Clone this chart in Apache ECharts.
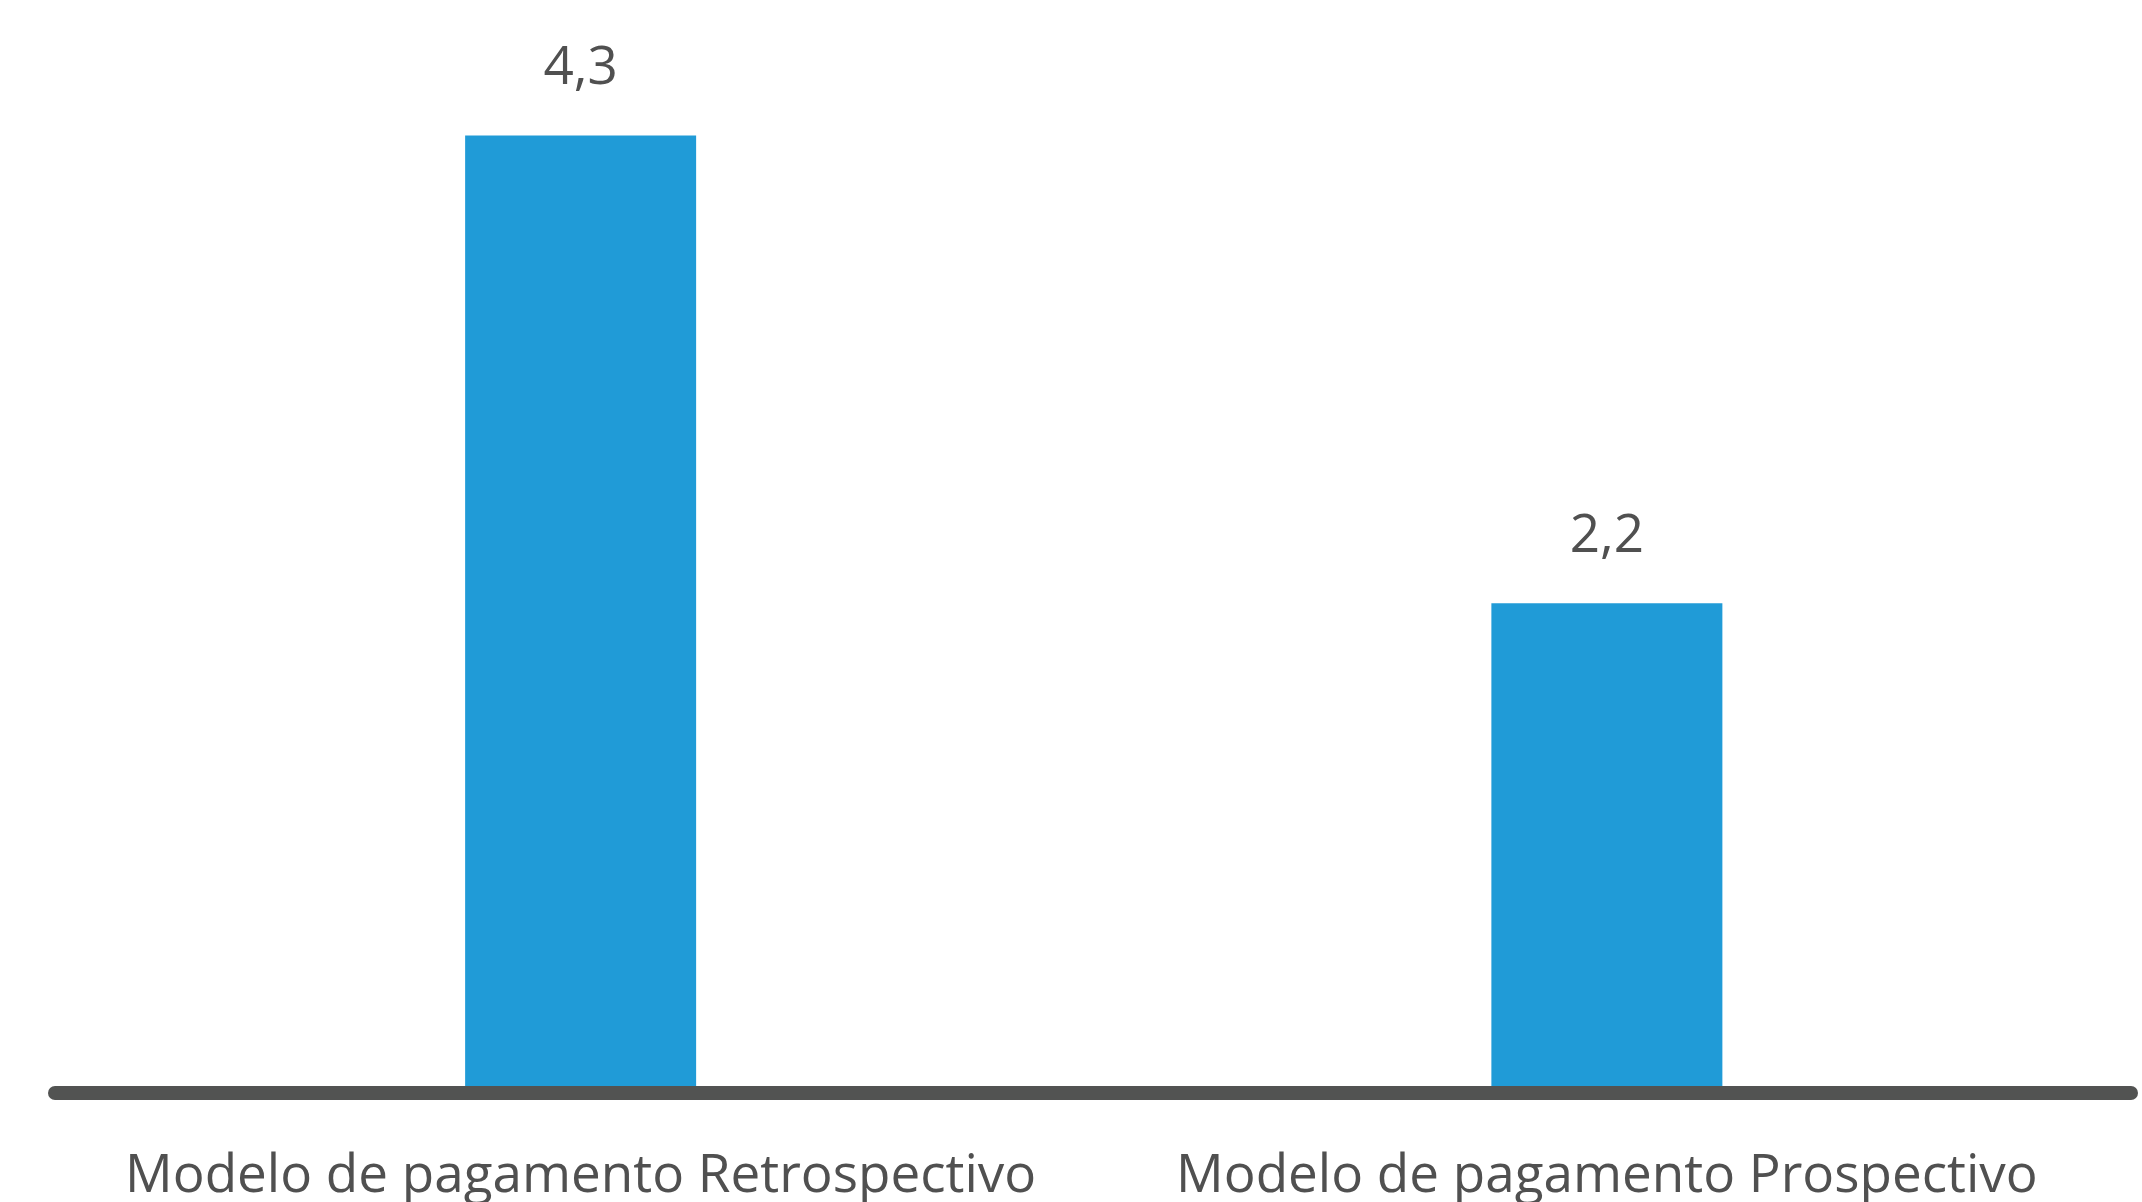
<!DOCTYPE html>
<html><head><meta charset="utf-8">
<script src="https://cdn.jsdelivr.net/npm/echarts@6/dist/echarts.min.js"></script>
<style>html,body{margin:0;padding:0;background:#fff}#c{width:2142px;height:1202px}</style>
</head><body><div id="c"></div>
<script>
const categories = ["Modelo de pagamento Retrospectivo", "Modelo de pagamento Prospectivo"];
const values = [4.3, 2.2];

const chart = echarts.init(document.getElementById('c'), null, {renderer: 'canvas'});
const textColor = '#505050';
const font = '"Open Sans", "Noto Sans", sans-serif';
chart.setOption({
  backgroundColor: '#ffffff',
  animation: false,
  grid: [
    {left: 67.5, right: 22, top: 2, bottom: 109, containLabel: false, outerBoundsMode: 'none'},
    {left: 55, right: 11, top: 2, bottom: 109, containLabel: false, outerBoundsMode: 'none'}
  ],
  xAxis: [
    {type: 'category', gridIndex: 0, data: categories,
     axisLine: {show: false}, axisTick: {show: false},
     axisLabel: {interval: 0, color: textColor, fontSize: 53, fontFamily: font, margin: 57}},
    {type: 'category', gridIndex: 1, data: categories, z: 10,
     axisLine: {show: true, lineStyle: {color: '#525352', width: 14, cap: 'round'}},
     axisTick: {show: false}, axisLabel: {show: false}}
  ],
  yAxis: [
    {type: 'value', gridIndex: 0, min: 0, max: 4.9, show: false, splitLine: {show: false}},
    {type: 'value', gridIndex: 1, min: 0, max: 4.9, show: false, splitLine: {show: false}}
  ],
  series: [{
    type: 'bar', xAxisIndex: 0, yAxisIndex: 0, data: values, barWidth: 231,
    itemStyle: {color: '#209BD7'},
    label: {show: true, position: 'top', distance: 40, color: textColor,
      fontSize: 53, fontFamily: font,
      formatter: p => String(p.value).replace('.', ',')}
  }]
});
</script></body></html>
